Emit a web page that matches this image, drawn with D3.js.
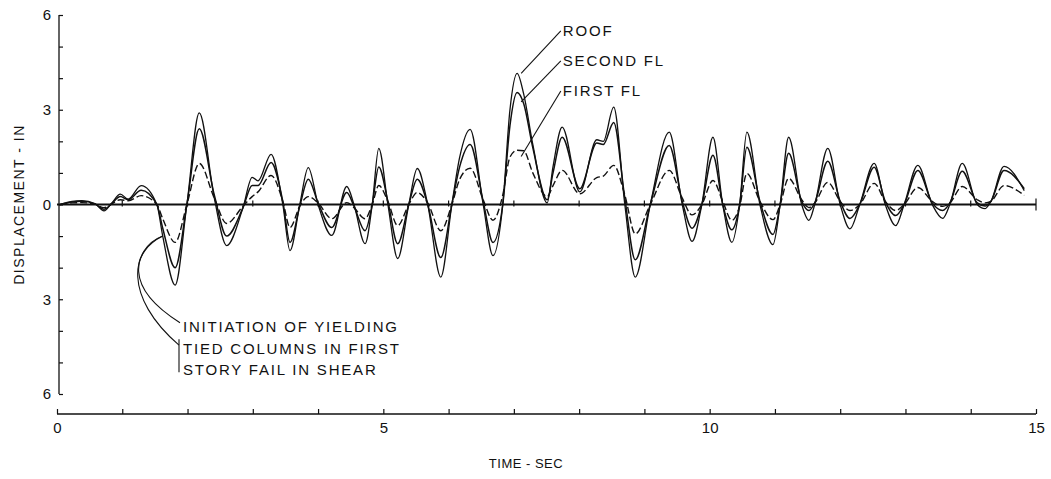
<!DOCTYPE html>
<html>
<head>
<meta charset="utf-8">
<script src="https://cdn.jsdelivr.net/npm/d3@7"></script>
<style>
  body { margin: 0; background: #fff; }
  svg text { font-family: "Liberation Sans", Arial, sans-serif; fill: #111; }
  .lbl { font-size: 15px; letter-spacing: 1.8px; }
</style>
</head>
<body>
<div class="container"></div>
<script>
// time (sec) of the key points
const times = [0.05, 0.23, 0.38, 0.58, 0.72, 0.84, 0.97, 1.09, 1.29, 1.53, 1.62, 1.81, 1.99, 2.18, 2.41, 2.60,
  2.85, 2.99, 3.08, 3.28, 3.46, 3.57, 3.72, 3.85, 4.00, 4.21, 4.44, 4.55, 4.72, 4.83, 4.93, 5.07, 5.22,
  5.39, 5.52, 5.68, 5.88, 6.05, 6.17, 6.33, 6.53, 6.68, 6.83, 6.94, 7.05, 7.15, 7.29, 7.51, 7.60, 7.74,
  8.01, 8.27, 8.37, 8.53, 8.70, 8.86, 9.09, 9.38, 9.58, 9.73, 9.88, 10.05, 10.20, 10.34, 10.46, 10.57,
  10.77, 10.97, 11.08, 11.21, 11.41, 11.52, 11.61, 11.81, 12.00, 12.15, 12.30, 12.52, 12.69, 12.85,
  12.98, 13.19, 13.41, 13.57, 13.68, 13.87, 14.10, 14.22, 14.31, 14.51, 14.82];

// displacement (in) of each floor at those times
const roof = [0, 0.10, 0.12, 0.03, -0.20, 0.05, 0.33, 0.17, 0.60, 0, -1.0, -2.55, 0, 2.90, 0.2, -1.30,
  -0.1, 0.86, 0.75, 1.59, 0, -1.46, 0, 1.17, 0, -0.98, 0.57, 0, -1.24, 0, 1.78, 0, -1.71,
  0, 1.14, 0, -2.30, 0, 1.50, 2.38, 0, -1.62, 0, 3.0, 4.15, 3.50, 1.90, 0.05, 1.20, 2.45,
  0.40, 2.05, 2.00, 3.08, 0, -2.30, 0, 2.29, 0, -1.17, 0, 2.13, 0, -1.20, 0, 2.29,
  0, -1.27, 0, 2.13, 0, -0.50, 0, 1.78, 0, -0.77, 0, 1.30, 0, -0.67,
  0, 1.24, 0, -0.44, 0, 1.30, 0, -0.13, 0.10, 1.21, 0.44];
const secondFl = [0, 0.08, 0.10, 0.02, -0.15, 0.03, 0.25, 0.15, 0.45, 0, -0.75, -2.0, 0, 2.40, 0.3, -1.0,
  -0.1, 0.60, 0.60, 1.33, 0.1, -1.20, -0.05, 0.80, 0.05, -0.73, 0.38, -0.05, -0.83, 0, 1.19, 0.1, -1.24,
  0, 0.80, 0, -1.68, 0, 1.20, 1.90, 0.1, -1.20, 0, 2.5, 3.55, 3.20, 1.80, 0.15, 1.00, 2.13,
  0.50, 1.95, 1.90, 2.60, 0.2, -1.75, 0, 1.87, 0.1, -0.75, 0, 1.56, 0, -0.80, 0, 1.81,
  0.1, -0.95, 0, 1.62, 0.1, -0.19, 0.05, 1.37, 0.1, -0.44, 0, 1.18, 0.1, -0.35,
  0, 1.08, 0.05, -0.19, 0.05, 1.05, 0.05, -0.05, 0.10, 1.08, 0.50];
const firstFl = [0, 0.05, 0.06, 0.01, -0.10, 0.02, 0.15, 0.12, 0.28, 0, -0.45, -1.2, 0, 1.30, 0.2, -0.60,
  -0.05, 0.25, 0.40, 0.92, 0.1, -0.73, -0.05, 0.25, 0.05, -0.45, 0.06, -0.10, -0.45, 0, 0.60, 0.1, -0.67,
  0, 0.38, 0.05, -0.83, 0, 0.80, 1.15, 0.15, -0.50, 0.3, 1.5, 1.72, 1.70, 1.00, 0.25, 0.60, 1.08,
  0.34, 0.85, 0.90, 1.24, 0.3, -0.93, 0, 1.08, 0.2, -0.33, 0, 0.76, 0.1, -0.50, -0.05, 0.98,
  0.1, -0.48, 0, 0.83, 0.15, -0.10, 0.05, 0.70, 0.1, -0.19, 0, 0.67, 0.1, -0.19,
  0, 0.54, 0.1, -0.06, 0.05, 0.57, 0.15, 0.05, 0.10, 0.60, 0.29];

const xTicks = d3.range(0, 16);
const yTicks = d3.range(-6, 7);

const svgWidth = 1051, svgHeight = 479;

const svg = d3.select(".container").append("svg")
  .attr("width", svgWidth)
  .attr("height", svgHeight);

const x = d3.scaleLinear().domain([0, 15]).range([57, 1036]);
const y = d3.scaleLinear().domain([-6, 6]).range([394, 15]);
const xAxisY = 414;

// y axis, ticks pointing inward
const yAxis = svg.append("g")
  .attr("transform", "translate(59,0)")
  .call(d3.axisLeft(y).tickValues(yTicks).tickSize(-4).tickPadding(8)
    .tickFormat(d => d % 3 === 0 ? Math.abs(d) : ""));
yAxis.select(".domain").attr("d", `M0,${y(6)}V${y(-6)}`).attr("stroke", "#111").attr("stroke-width", 1.3);
yAxis.selectAll(".tick line").attr("stroke", "#111").attr("stroke-width", 1.2);
yAxis.selectAll("text").style("font-size", "15px").attr("fill", "#111");

// time axis at the bottom
const xAxis = svg.append("g")
  .attr("transform", `translate(0,${xAxisY})`)
  .call(d3.axisBottom(x).tickValues(xTicks).tickSize(-5).tickPadding(8)
    .tickFormat(d => d % 5 === 0 ? d : ""));
xAxis.select(".domain").attr("d", `M${x(0)},0H${x(15)}`).attr("stroke", "#111").attr("stroke-width", 1.3);
xAxis.selectAll(".tick line").attr("stroke", "#111").attr("stroke-width", 1.2);
xAxis.selectAll("text").style("font-size", "15px").attr("fill", "#111");

// zero line with its own second marks
svg.append("line")
  .attr("x1", x(0)).attr("x2", x(15))
  .attr("y1", y(0)).attr("y2", y(0))
  .attr("stroke", "#111").attr("stroke-width", 2);
svg.selectAll(".zt").data(xTicks.slice(1)).enter().append("line")
  .attr("class", "zt")
  .attr("x1", d => x(d)).attr("x2", d => x(d))
  .attr("y1", d => y(0) - (d === 15 ? 6 : 4)).attr("y2", d => y(0) + (d === 15 ? 6 : 2))
  .attr("stroke", "#111").attr("stroke-width", 1.2);

// the three floor records
const series = [
  { name: "first", vals: firstFl, w: 1.4, dash: "7,3" },
  { name: "second", vals: secondFl, w: 1.5, dash: null },
  { name: "roof", vals: roof, w: 1.3, dash: null }
];
const line = d3.line()
  .x((d, i) => x(times[i]))
  .y(d => y(d))
  .curve(d3.curveMonotoneX);

svg.selectAll(".floor").data(series).enter().append("path")
  .attr("class", "floor")
  .attr("d", d => line(d.vals))
  .attr("fill", "none")
  .attr("stroke", "#111")
  .attr("stroke-width", d => d.w)
  .attr("stroke-dasharray", d => d.dash);

// axis titles
svg.append("text")
  .attr("transform", `translate(24,${y(0)}) rotate(-90)`)
  .attr("text-anchor", "middle")
  .style("font-size", "14px").style("letter-spacing", "1.5px")
  .text("DISPLACEMENT - IN");

svg.append("text")
  .attr("x", 526).attr("y", 468)
  .attr("text-anchor", "middle")
  .style("font-size", "13px").style("letter-spacing", "0.5px")
  .text("TIME - SEC");

// floor labels with leaders to the big peak
const peakIdx = times.indexOf(7.05);
const floorLabels = [
  { text: "ROOF", v: 5.4, end: roof[peakIdx] },
  { text: "SECOND FL", v: 4.45, end: secondFl[peakIdx] - 0.3 },
  { text: "FIRST FL", v: 3.5, end: firstFl[peakIdx] - 0.2 }
];
floorLabels.forEach(d => {
  svg.append("line")
    .attr("x1", x(7.75) - 2).attr("y1", y(d.v) - 3)
    .attr("x2", x(7.05) + 4).attr("y2", y(d.end))
    .attr("stroke", "#111").attr("stroke-width", 1.1);
  svg.append("text")
    .attr("class", "lbl")
    .attr("x", x(7.75)).attr("y", y(d.v) + 2)
    .text(d.text);
});

// yielding notes with curved leaders
const ax = x(1.62), ay = y(-1.0);
const tx = 183;
const noteY = [y(-3.87), y(-4.58), y(-5.25)];
svg.append("path")
  .attr("d", `M${ax},${ay} C${ax - 30},${ay + 15} ${ax - 40},${noteY[0] - 40} ${tx - 3},${noteY[0] - 4}`)
  .attr("fill", "none").attr("stroke", "#111").attr("stroke-width", 1.1);
svg.append("path")
  .attr("d", `M${ax},${ay} C${ax - 32},${ay + 12} ${ax - 40},${noteY[0] - 30} ${tx - 4},${noteY[1] - 4}`)
  .attr("fill", "none").attr("stroke", "#111").attr("stroke-width", 1.1);
svg.append("line")
  .attr("x1", tx - 4).attr("x2", tx - 4)
  .attr("y1", noteY[1] - 10).attr("y2", noteY[2] + 2)
  .attr("stroke", "#111").attr("stroke-width", 1.1);
["INITIATION OF YIELDING", "TIED COLUMNS IN FIRST", "STORY FAIL IN SHEAR"].forEach((t, i) => {
  svg.append("text")
    .attr("class", "lbl")
    .attr("x", tx).attr("y", noteY[i] + 5)
    .text(t);
});
</script>
</body>
</html>
